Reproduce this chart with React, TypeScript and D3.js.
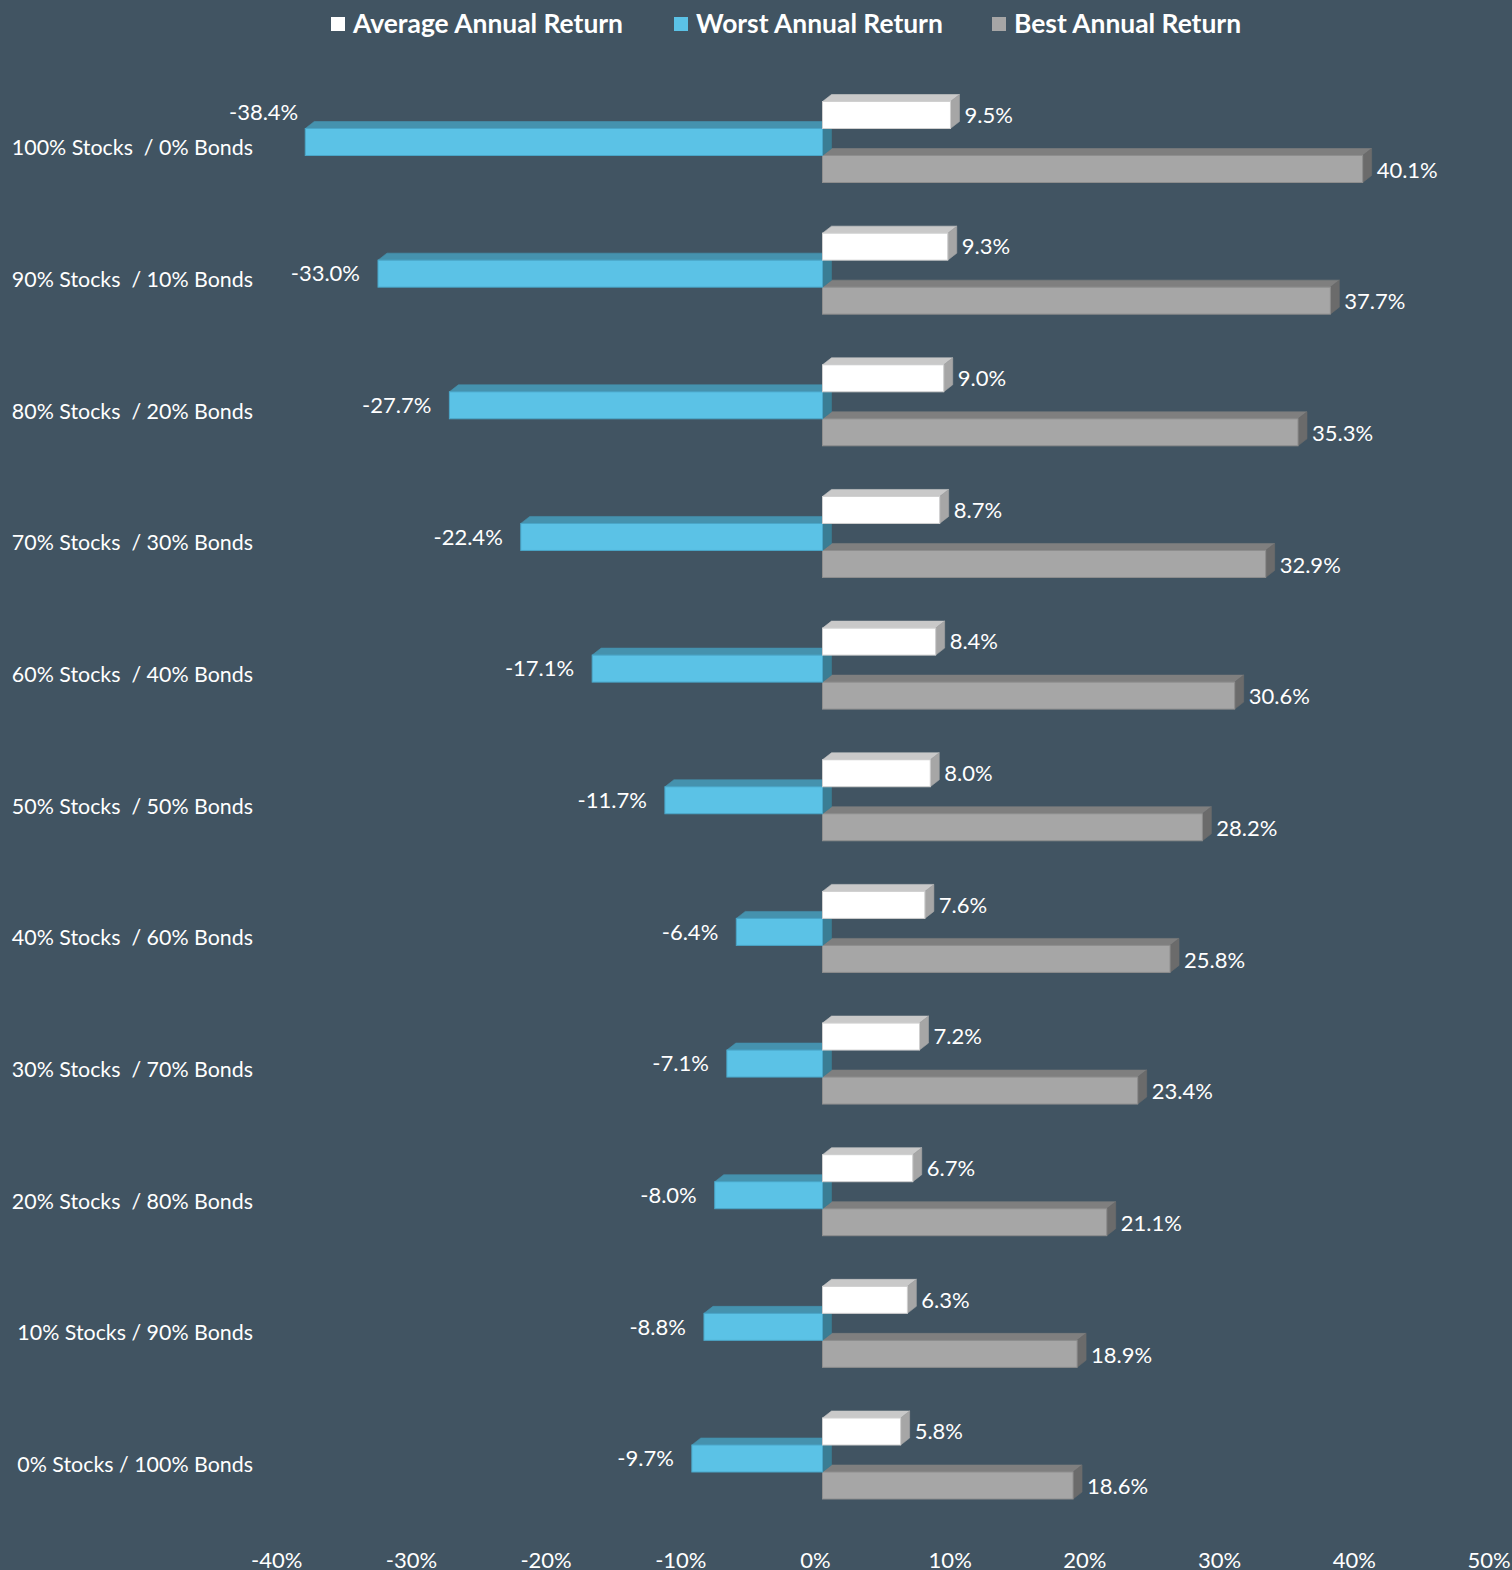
import React from "react";
import * as d3 from "d3";

const categories = [
  "100% Stocks  / 0% Bonds",
  "90% Stocks  / 10% Bonds",
  "80% Stocks  / 20% Bonds",
  "70% Stocks  / 30% Bonds",
  "60% Stocks  / 40% Bonds",
  "50% Stocks  / 50% Bonds",
  "40% Stocks  / 60% Bonds",
  "30% Stocks  / 70% Bonds",
  "20% Stocks  / 80% Bonds",
  "10% Stocks / 90% Bonds",
  "0% Stocks / 100% Bonds",
];

const averageReturn = [9.5, 9.3, 9.0, 8.7, 8.4, 8.0, 7.6, 7.2, 6.7, 6.3, 5.8];
const worstReturn = [-38.4, -33.0, -27.7, -22.4, -17.1, -11.7, -6.4, -7.1, -8.0, -8.8, -9.7];
const bestReturn = [40.1, 37.7, 35.3, 32.9, 30.6, 28.2, 25.8, 23.4, 21.1, 18.9, 18.6];

const seriesNames = ["Average Annual Return", "Worst Annual Return", "Best Annual Return"];
const tickValues = [-40, -30, -20, -10, 0, 10, 20, 30, 40, 50];

const W = 1512;
const H = 1570;
const BG = "#415462";
const FONT = "Lato, 'Open Sans', sans-serif";

const palettes = [
  { front: "#ffffff", top: "#c9c9c9", side: "#a6a6a6", stroke: "#d0d0d0" },
  { front: "#5bc2e6", top: "#4592ae", side: "#3a7d94", stroke: "#4aa6c8" },
  { front: "#a6a6a6", top: "#7f7f7f", side: "#6b6b6b", stroke: "#8e8e8e" },
];

// label nudges for the worst series (first label placed above-left)
const worstLabelNudge = categories.map((_, i) => (i === 0 ? { dx: 11, dy: -30 } : { dx: 0, dy: 0 }));

const DX = 9;
const DY = 7;

function Bar3D({ x0, x1, y, h, pal }: { x0: number; x1: number; y: number; h: number; pal: any }) {
  const top = `${x0},${y} ${x0 + DX},${y - DY} ${x1 + DX},${y - DY} ${x1},${y}`;
  const side = `${x1},${y} ${x1 + DX},${y - DY} ${x1 + DX},${y + h - DY} ${x1},${y + h}`;
  return (
    <g>
      <polygon points={top} fill={pal.top} stroke={pal.top} strokeWidth={0.6} />
      <polygon points={side} fill={pal.side} stroke={pal.side} strokeWidth={0.6} />
      <rect x={x0} y={y} width={x1 - x0} height={h} fill={pal.front} stroke={pal.stroke} strokeWidth={1} />
    </g>
  );
}

export default function App() {
  const x = d3.scaleLinear().domain([-40, 50]).range([283.7, 1496]);
  const step = 131.65;
  const groupCenter0 = 142;
  const rangeTop = groupCenter0 - step / 2;
  const pIn = 1 - 81 / step;
  const y = d3
    .scaleBand<string>()
    .domain(categories)
    .range([rangeTop, rangeTop + step * categories.length])
    .paddingInner(pIn)
    .paddingOuter(pIn / 2);
  const inner = d3.scaleBand<number>().domain([0, 1, 2]).range([0, y.bandwidth()]).padding(0);

  const seriesValues = [averageReturn, worstReturn, bestReturn];
  const fmt = (v: number) => `${v.toFixed(1)}%`;

  const legendX = [331, 674, 992];

  return (
    <svg width={W} height={H} style={{ display: "block" }} fontFamily={FONT}>
      <style>{"body{margin:0;}"}</style>
      <rect x={0} y={0} width={W} height={H} fill={BG} />

      {/* legend */}
      {seriesNames.map((name, i) => (
        <g key={name}>
          <rect x={legendX[i]} y={17} width={14} height={14} fill={palettes[i].front} />
          <text x={legendX[i] + 22} y={24} dy="0.35em" fill="#ffffff" fontWeight="bold" fontSize={26.4}>
            {name}
          </text>
        </g>
      ))}

      {/* bars */}
      {categories.map((cat, ci) => {
        const gy = y(cat)!;
        return (
          <g key={cat}>
            {[2, 1, 0].map((si) => {
              const v = seriesValues[si][ci];
              const x0 = Math.min(x(0), x(v));
              const x1 = Math.max(x(0), x(v));
              return (
                <Bar3D key={si} x0={x0} x1={x1} y={gy + inner(si)!} h={inner.bandwidth()} pal={palettes[si]} />
              );
            })}
          </g>
        );
      })}

      {/* data labels */}
      {categories.map((cat, ci) => {
        const gy = y(cat)!;
        return (
          <g key={"l" + cat} fill="#ffffff" fontSize={22}>
            {[0, 1, 2].map((si) => {
              const v = seriesValues[si][ci];
              const cy = gy + inner(si)! + inner.bandwidth() / 2 + (si === 2 ? 1 : 0);
              if (v >= 0) {
                return (
                  <text key={si} x={x(v) + DX + 5} y={cy} dy="0.35em" textAnchor="start">
                    {fmt(v)}
                  </text>
                );
              }
              const n = worstLabelNudge[ci];
              return (
                <text key={si} x={x(v) - 18 + n.dx} y={cy + n.dy} dy="0.35em" textAnchor="end">
                  {fmt(v)}
                </text>
              );
            })}
          </g>
        );
      })}

      {/* category labels */}
      {categories.map((cat) => (
        <text
          key={"c" + cat}
          x={253}
          y={y(cat)! + y.bandwidth() / 2 + 6}
          dy="0.35em"
          textAnchor="end"
          fill="#ffffff"
          fontSize={21.4}
          style={{ whiteSpace: "pre" }}
        >
          {cat}
        </text>
      ))}

      {/* axis tick labels */}
      {tickValues.map((t) => (
        <text key={"t" + t} x={x(t) - 7} y={1568} textAnchor="middle" fill="#ffffff" fontSize={22}>
          {`${t}%`}
        </text>
      ))}
    </svg>
  );
}
